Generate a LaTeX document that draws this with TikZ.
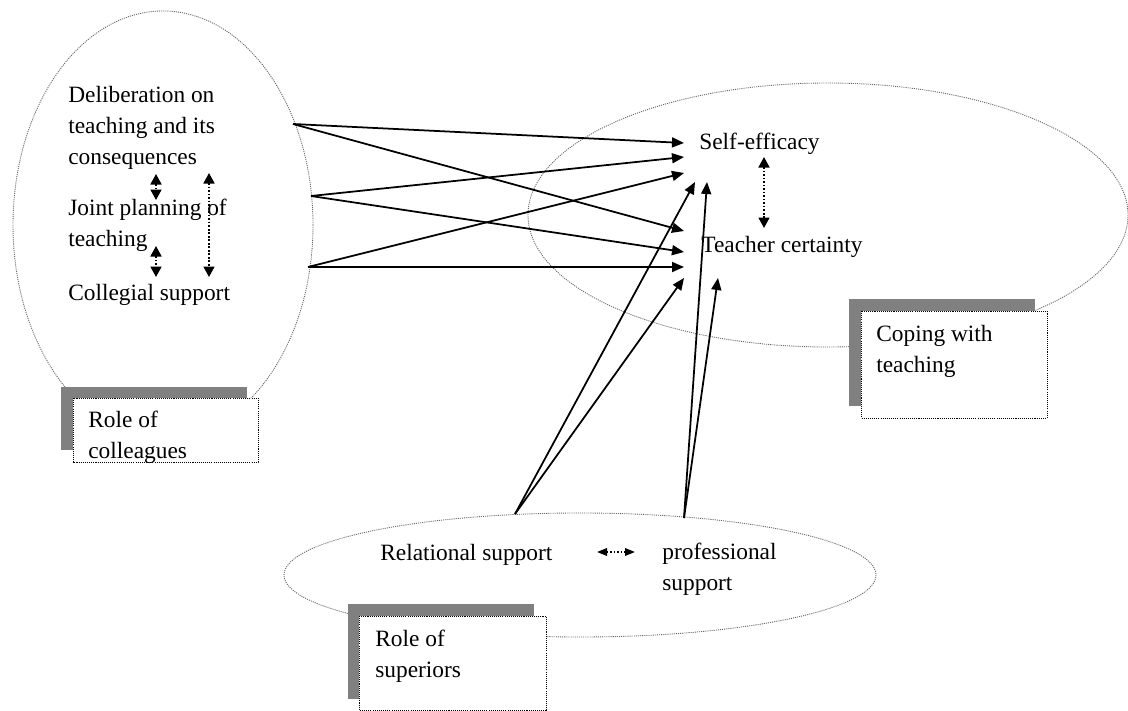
\documentclass[tikz,border=0pt]{standalone}
\usepackage{fontspec}
\setmainfont{Liberation Serif}
\usetikzlibrary{arrows.meta,positioning}

\begin{document}
\begin{tikzpicture}[x=0.2mm, y=-0.2mm]
	\tikzstyle{every node}=[font=\fontsize{13.3}{17.4}\selectfont, inner sep=0pt, align=left]
	\tikzstyle{region}=[draw=black!60, line width=0.5pt, dash pattern=on 0.6pt off 0.6pt]
	\tikzstyle{tag}=[fill=white, draw=black, line width=0.4pt, dash pattern=on 0.6pt off 0.6pt]
	\tikzstyle{link}=[line width=1pt, -{Triangle[length=2.4mm, width=2mm]}]
	\tikzstyle{pair}=[line width=1pt, dash pattern=on 1pt off 1pt, {Triangle[length=2.1mm, width=2.2mm]}-{Triangle[length=2.1mm, width=2.2mm]}]
	\tikzstyle{small pair}=[line width=1pt, dash pattern=on 1pt off 1pt, {Triangle[length=2mm, width=1.5mm]}-{Triangle[length=2mm, width=1.5mm]}]
	\useasboundingbox (0,0) rectangle (1128,711);
	% regions
	\draw [region] (163,225) ellipse [x radius=150, y radius=214];
	\draw [region] (828,215) ellipse [x radius=300, y radius=132];
	\draw [region] (580,575) ellipse [x radius=296, y radius=62];
	% label boxes
	\fill [gray] (61,387) rectangle (247,450);
	\draw [tag] (73,398) rectangle (258,462);
	\fill [gray] (849,299) rectangle (1035,406);
	\draw [tag] (861,311) rectangle (1047,418);
	\fill [gray] (348,604) rectangle (534,699);
	\draw [tag] (359,616) rectangle (546,710);
	\node [anchor=base west] (colleagues) at (88,458) {Role of\\colleagues};
	\node [anchor=base west] (coping) at (876,372) {Coping with\\teaching};
	\node [anchor=base west] (superiors) at (375,677) {Role of\\superiors};
	% texts
	\node [anchor=base west] (delib) at (68,164) {Deliberation on\\teaching and its\\consequences};
	\node [anchor=base west] (joint) at (68,246) {Joint planning of\\teaching};
	\node [anchor=base west] (collegial) at (68,300) {Collegial support};
	\node [anchor=base west] (selfeff) at (699,149) {Self-efficacy};
	\node [anchor=base west] (certainty) at (701,252) {Teacher certainty};
	\node [anchor=base west] (relational) at (380,560) {Relational support};
	\node [anchor=base west] (professional) at (662,590) {professional\\support};
	% arrow ends
	\coordinate (d1) at (293,124);
	\coordinate (j1) at (311,196);
	\coordinate (c1) at (308,267);
	\coordinate (r1) at (515,514);
	\coordinate (p1) at (684,518);
	\coordinate (se1) at (684,143);
	\coordinate (se2) at (684,157);
	\coordinate (se3) at (684,173);
	\coordinate (se4) at (695,182);
	\coordinate (se5) at (707,182);
	\coordinate (tc1) at (684,231);
	\coordinate (tc2) at (684,252);
	\coordinate (tc3) at (684,267);
	\coordinate (tc4) at (684,278);
	\coordinate (tc5) at (718,278);
	\draw [link] (d1) -- (se1);
	\draw [link] (d1) -- (tc1);
	\draw [link] (j1) -- (se2);
	\draw [link] (j1) -- (tc2);
	\draw [link] (c1) -- (se3);
	\draw [link] (c1) -- (tc3);
	\draw [link] (r1) -- (se4);
	\draw [link] (r1) -- (tc4);
	\draw [link] (p1) -- (se5);
	\draw [link] (p1) -- (tc5);
	% correlations
	\coordinate (dj1) at (156,174);
	\coordinate (dj2) at (156,200);
	\coordinate (jc1) at (156,246);
	\coordinate (jc2) at (156,277);
	\coordinate (dc1) at (209,173);
	\coordinate (dc2) at (209,277);
	\coordinate (st1) at (764,157);
	\coordinate (st2) at (764,228);
	\coordinate (rp1) at (597,552);
	\coordinate (rp2) at (635,552);
	\draw [pair] (dj1) -- (dj2);
	\draw [pair] (jc1) -- (jc2);
	\draw [pair] (dc1) -- (dc2);
	\draw [pair] (st1) -- (st2);
	\draw [small pair] (rp1) -- (rp2);
\end{tikzpicture}
\end{document}
